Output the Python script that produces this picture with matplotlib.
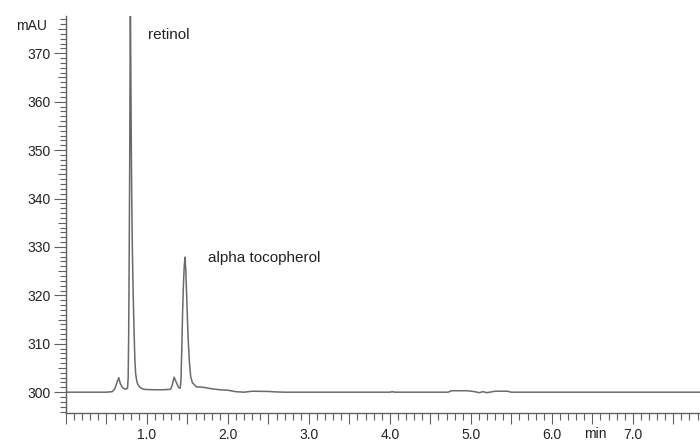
import matplotlib
matplotlib.use("Agg")
import matplotlib.pyplot as plt
from matplotlib.ticker import MultipleLocator, FuncFormatter
import matplotlib.transforms as mtransforms

plt.rcParams['font.family'] = ['Liberation Sans', 'DejaVu Sans']

# Chromatogram data (time in min, absorbance in mAU)
time_min = [0.00, 0.50, 0.57, 0.60, 0.63, 0.652, 0.67, 0.70, 0.735, 0.760,
            0.768, 0.774, 0.780, 0.786, 0.791, 0.795, 0.800, 0.806, 0.812,
            0.820, 0.830, 0.840, 0.850, 0.860, 0.875, 0.890, 0.920, 0.960,
            1.00, 1.10, 1.20, 1.29, 1.31, 1.335, 1.36, 1.39, 1.41, 1.42,
            1.43, 1.44, 1.45, 1.46, 1.47, 1.48, 1.49, 1.50, 1.51, 1.525,
            1.54, 1.56, 1.61, 1.70, 1.75, 1.80, 1.90, 2.00, 2.10, 2.20,
            2.30, 2.50, 2.60, 2.70, 3.00, 4.00, 4.03, 4.06, 4.72, 4.76,
            4.95, 5.05, 5.10, 5.15, 5.20, 5.30, 5.45, 5.50, 7.83]
absorbance = [300.0, 300.0, 300.1, 300.6, 302.0, 303.0, 301.8, 300.9, 300.6, 300.8,
              303.0, 312.0, 327.0, 345.0, 365.0, 382.0, 368.0, 352.0, 340.0,
              329.0, 320.0, 313.0, 307.0, 303.8, 302.2, 301.5, 300.9, 300.6,
              300.55, 300.5, 300.5, 300.6, 301.3, 303.1, 302.1, 301.0, 300.8, 302.5,
              309.0, 316.5, 322.0, 326.0, 327.9, 325.0, 320.0, 315.0, 310.5, 306.0,
              303.2, 302.0, 301.1, 301.0, 300.85, 300.7, 300.5, 300.4, 300.1, 300.0,
              300.2, 300.15, 300.05, 300.0, 300.0, 300.0, 300.1, 300.0, 300.0, 300.3,
              300.3, 300.1, 299.9, 300.1, 299.9, 300.2, 300.2, 300.0, 300.0]

peak_labels = ["retinol", "alpha tocopherol"]
peak_label_pos = [(1.01, 373.7), (1.75, 327.7)]

y_ticks = [300, 310, 320, 330, 340, 350, 360, 370]
x_tick_labels = ["1.0", "2.0", "3.0", "4.0", "5.0", "6.0", "7.0"]

fig = plt.figure(figsize=(7.0, 4.41), dpi=100)
ax = fig.add_axes([66/700, 28/441, 634/700, 397/441])

line_col = "#6a6a6a"
axis_col = "#606060"
text_col = "#222222"

ax.plot(time_min, absorbance, color=line_col, lw=1.1)

ax.set_xlim(0, 7.83)
ax.set_ylim(295.7, 377.7)

for s in ["top", "right"]:
    ax.spines[s].set_visible(False)
for s in ["left", "bottom"]:
    ax.spines[s].set_color(axis_col)
    ax.spines[s].set_linewidth(1.0)

# y axis ticks
ax.yaxis.set_major_locator(MultipleLocator(5))
ax.yaxis.set_minor_locator(MultipleLocator(1))
ax.yaxis.set_major_formatter(FuncFormatter(
    lambda v, p: ("%d" % round(v)) if abs(v/10 - round(v/10)) < 1e-6 else ""))
ax.tick_params(axis="y", which="major", direction="out", length=9, width=0.8,
               color=axis_col, labelsize=10, labelcolor=text_col, pad=2)
ax.tick_params(axis="y", which="minor", direction="out", length=4, width=0.8,
               color=axis_col)

# x axis ticks
ax.xaxis.set_major_locator(MultipleLocator(0.5))
ax.xaxis.set_minor_locator(MultipleLocator(0.1))
def xfmt(v, p):
    if abs(v - round(v)) < 1e-6 and 1 <= round(v) <= 7:
        return x_tick_labels[int(round(v)) - 1]
    return ""
ax.xaxis.set_major_formatter(FuncFormatter(xfmt))
ax.tick_params(axis="x", which="major", direction="out", length=8, width=0.8,
               color=axis_col, labelsize=10, labelcolor=text_col, pad=3)
ax.tick_params(axis="x", which="minor", direction="out", length=5, width=0.8,
               color=axis_col)

fig.canvas.draw()
for t, loc in zip(ax.yaxis.get_major_ticks(), ax.yaxis.get_majorticklocs()):
    if abs(loc/10 - round(loc/10)) > 1e-6:
        t.tick1line.set_markersize(6)

# axis unit labels
trans_y = mtransforms.blended_transform_factory(ax.transAxes, ax.transData)
ax.text(-19/634, 375.6, "mAU", transform=trans_y, ha="right", va="center",
        fontsize=10, color=text_col)
trans_x = mtransforms.blended_transform_factory(ax.transData, ax.transAxes)
ax.text(6.54, -14/397, "min", transform=trans_x, ha="center", va="top",
        fontsize=10, color=text_col)

for lab, (xx, yy) in zip(peak_labels, peak_label_pos):
    ax.text(xx, yy, lab, ha="left", va="center", fontsize=11, color=text_col)

fig.savefig("out.png", dpi=100)
